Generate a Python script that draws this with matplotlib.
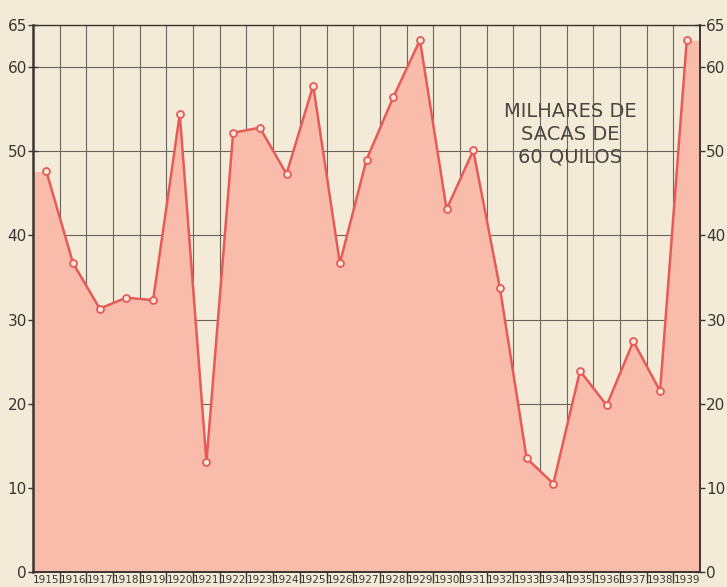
import numpy as np
import matplotlib.pyplot as plt
from matplotlib.ticker import FixedLocator
from matplotlib import font_manager

anos = list(range(1915, 1940))
rotulos_anos = [str(a) for a in anos]
sacas = [47.6, 36.7, 31.3, 32.6, 32.3, 54.4, 13.1, 52.2, 52.8, 47.3,
         57.8, 36.7, 49.0, 56.4, 63.2, 43.1, 50.1, 33.7, 13.5, 10.5,
         23.9, 19.8, 27.4, 21.5, 63.2]
yticks = [0, 10, 20, 30, 40, 50, 60, 65]
titulo = "MILHARES DE\nSACAS DE\n60 QUILOS"

fundo = '#f3ebd7'
rosa = '#f9bcab'
vermelho = '#e85a58'
tinta = '#3a3530'

nomes = {f.name for f in font_manager.fontManager.ttflist}
print(sorted(n for n in nomes if 'DejaVu' in n or 'Liberation' in n))
if 'DejaVu Sans Condensed' in nomes:
    fonte = ['DejaVu Sans Condensed', 'DejaVu Sans']
else:
    fonte = ['DejaVu Sans']

fig = plt.figure(figsize=(7.27, 5.87), dpi=100, facecolor=fundo)
ax = fig.add_axes([0.0454, 0.0256, 0.9176, 0.9318])
ax.set_facecolor(fundo)

xs = np.arange(len(anos))
ax.set_xlim(-0.5, len(anos) - 0.5)
ax.set_ylim(0, 65)

# grade (fica por baixo da area rosa)
for b in xs[:-1] + 0.5:
    ax.axvline(b, color='#6a655c', lw=0.8, zorder=1)
for v in [10, 20, 30, 40, 50, 60]:
    ax.axhline(v, color='#6a655c', lw=0.8, zorder=1)

# area rosa vai ate as bordas do grafico
xf = np.concatenate([[-0.5], xs, [len(anos) - 0.5]])
yf = np.concatenate([[sacas[0]], sacas, [sacas[-1]]])
ax.fill_between(xf, 0, yf, color=rosa, lw=0, zorder=2)
ax.plot(xs, sacas, color=vermelho, lw=1.8, zorder=3)
ax.plot(xs, sacas, 'o', ms=5, mfc=fundo, mec=vermelho, mew=1.3, zorder=4)

for s in ['left', 'right', 'bottom', 'top']:
    ax.spines[s].set_color(tinta)
ax.spines['left'].set_linewidth(1.8)
ax.spines['right'].set_linewidth(1.4)
ax.spines['bottom'].set_linewidth(1.4)
ax.spines['top'].set_linewidth(1.0)

ax.set_yticks(yticks)
ax.set_yticklabels([str(v) for v in yticks], family=fonte, fontsize=11, color=tinta)
ax.tick_params(axis='y', direction='inout', length=7, width=1, color=tinta,
               left=True, right=True, labelleft=True, labelright=True, pad=1)

ax.set_xticks(xs)
ax.set_xticklabels(rotulos_anos, family=fonte, fontsize=7.5, color=tinta)
ax.tick_params(axis='x', which='major', length=0, pad=2)
ax.xaxis.set_minor_locator(FixedLocator(xs[:-1] + 0.5))
ax.tick_params(axis='x', which='minor', direction='inout', length=16, width=1, color=tinta)

ax.text(0.805, 0.80, titulo, transform=ax.transAxes, ha='center', va='center',
        family=fonte, fontsize=14, color='#4a4540', linespacing=1.25, zorder=5)

fig.savefig('out.png', dpi=100, facecolor=fundo)
